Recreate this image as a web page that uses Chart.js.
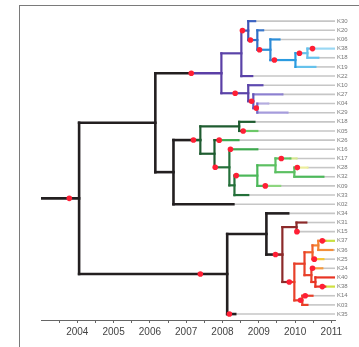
<!DOCTYPE html>
<html lang="en">
<head>
<meta charset="UTF-8">
<title>Dated tree</title>
<script src="https://cdn.jsdelivr.net/npm/chart.js"></script>
<style>
    body { margin: 0; padding: 0; background: #fff; }
    .wrap { position: relative; width: 359px; height: 347px; }
    .frame { position: absolute; left: 19px; top: 5px; right: 0; bottom: 0;
             border-left: 1.5px solid #7a7a7a; border-top: 1.5px solid #7a7a7a; pointer-events: none; }
</style>
</head>
<body>
<div class="wrap">
    <canvas id="tree" width="359" height="347"></canvas>
    <div class="frame"></div>
</div>
<script>
// tips, top to bottom
const tipLabels = ['K30','K20','K06','K38','K18','K19','K22','K10','K27','K04','K29',
    'K18','K05','K26','K16','K17','K28','K32','K09','K33','K02',
    'K34','K31','K15','K37','K36','K25','K24','K40','K38','K14','K03','K35'];
const tipParents = ['P2','P3','P4','P6','P6','P5','P1','P7','P8','P9','P9',
    'G1','G1','G2','G3','G6','G7','G7','G5','G4','B',
    'R1','R3','R3','R7','R7','R6','R8','R9','R9','R10','R10','R'];
const tipYears = [2008.90, 2009.12, 2009.57, 2011.10, 2010.64, 2010.56, 2008.82, 2009.10, 2009.65, 2009.26, 2009.79,
    2008.88, 2008.96, 2008.44, 2008.96, 2010.04, 2010.34, 2010.78, 2009.59, 2008.71, 2008.30,
    2009.81, 2010.31, 2010.09, 2011.10, 2011.03, 2010.78, 2010.75, 2011.10, 2011.10, 2010.48, 2010.34, 2008.35];

// internal nodes
const nodeNames = ['root','A','P','P1','P2','P3','P4','P5','P6','P7','P8','P9',
    'B','G','G1','G2','G3','G4','G5','G6','G7',
    'R','R1','R2','R3','R4','R5','R6','R7','R8','R9','R10'];
const nodeParents = [null,'root','A','P','P1','P2','P3','P4','P5','P','P7','P8',
    'A','B','G','G','G2','G3','G4','G5','G6',
    'root','R','R1','R2','R2','R4','R5','R6','R5','R8','R4'];
const nodeYears = [2004.05, 2006.15, 2007.97, 2008.52, 2008.71, 2008.96, 2009.32, 2010.01, 2010.34, 2008.71, 2008.85, 2008.96,
    2006.65, 2007.39, 2008.46, 2007.78, 2008.19, 2008.33, 2008.96, 2009.46, 2009.98,
    2008.13, 2009.21, 2009.65, 2010.04, 2009.98, 2010.26, 2010.48, 2010.64, 2010.45, 2010.56, 2010.20];
const rootStemStart = 2003.0;

// red markers: branch (leading to node / tip index) and year
const dotBranches = ['root','P','P2','P3','P4','P5','P6','t3','P7','P8','P9',
    'G','t12','t13','G3','t14','G5','t15','t16','t18',
    'R','R2','t23','R4','t24','t26','t27','t29','R10','t30','t32'];
const dotYears = [2003.78, 2007.14, 2008.55, 2008.77, 2009.02, 2009.43, 2010.12, 2010.48, 2008.35, 2008.80, 2008.93,
    2007.20, 2008.57, 2007.91, 2007.80, 2008.22, 2008.38, 2009.62, 2010.06, 2009.18,
    2007.39, 2009.46, 2010.05, 2009.84, 2010.75, 2010.53, 2010.48, 2010.75, 2010.15, 2010.28, 2008.19];

// branches whose colour changes part way
const shiftBranches = ['P','G','R2','R4','t3','t12','t13','t14','t15','t16','t18','t24','t26','t27','t29'];
const shiftYears = [2007.14, 2007.20, 2009.46, 2009.84, 2010.48, 2008.57, 2007.91, 2008.22, 2009.87, 2010.09, 2009.18, 2010.83, 2010.53, 2010.48, 2010.83];

const yearLabels = [2004, 2005, 2006, 2007, 2008, 2009, 2010, 2011];

// styling
const BLK = '#231f20';
const colors = {
    root: BLK, A: BLK, B: BLK, R: BLK, R1: BLK, t20: BLK, t21: BLK, t32: BLK,
    P: [BLK, '#5b3fa6'], P1: '#5a43a8', P2: '#3f55b5', t0: '#3c63c2', P3: '#2f6fc6', t1: '#3a78cc',
    P4: '#2c8ad6', t2: '#2c8ed8', P5: '#2b9be0', P6: '#66c2ec', t3: ['#66c2ec', '#9ad8f4'],
    t4: '#66c2ec', t5: '#66c2ec', t6: '#5a43a8', P7: '#5a43a8', t7: '#5e4ab0', P8: '#6455b8',
    t8: '#8c80d0', P9: '#7568c4', t9: '#b4acdf', t10: '#a69cdc',
    G: [BLK, '#1f5c30'], G1: '#1f5c30', t11: '#1f5c30', t12: ['#1f5c30', '#6cc868'], G2: '#1f5c30',
    t13: ['#1f5c30', '#3da84e'], G3: '#24703a', t14: ['#24703a', '#3da84e'], G4: '#24703a',
    G5: '#4cb85a', G6: '#5cc062', t15: ['#5cc062', '#d6e690'], G7: '#5cc062',
    t16: ['#5cc062', '#ecee9c'], t17: '#4cb85a', t18: ['#4cb85a', '#8ed680'], t19: '#24703a',
    R2: [BLK, '#8c2a2a'], R3: '#8c2a2a', t22: '#8c2a2a', t23: '#8c2a2a',
    R4: ['#8c2a2a', '#e8402a'], R5: '#e8402a', R6: '#f0602c', R7: '#f38232',
    t24: ['#f38232', '#c8e040'], t25: '#f38f3c', t26: ['#f0602c', '#f4c834'], R8: '#e8402a',
    t27: ['#e8402a', '#f49a40'], R9: '#e83424', t28: '#e83424', t29: ['#e83424', '#cfe040'],
    R10: '#e8402a', t30: '#e8402a', t31: '#e8402a'
};
const colorStart = id => Array.isArray(colors[id]) ? colors[id][0] : colors[id];
const colorEnd = id => Array.isArray(colors[id]) ? colors[id][1] : colors[id];
const widthOf = id => colorStart(id) === BLK ? 2.6 : 2.2;

// build tree layout
const info = {};
nodeNames.forEach((n, i) => { info[n] = { parent: nodeParents[i], year: nodeYears[i], kids: [] }; });
tipLabels.forEach((_, i) => {
    const id = 't' + i;
    info[id] = { parent: tipParents[i], year: tipYears[i], kids: [], y: i };
    info[tipParents[i]].kids.push(id);
});
nodeNames.forEach(n => { if (info[n].parent) info[info[n].parent].kids.push(n); });
function layoutY(id) {
    const nd = info[id];
    if (nd.y !== undefined) return nd.y;
    const ys = nd.kids.map(layoutY);
    nd.y = (Math.min(...ys) + Math.max(...ys)) / 2;
    return nd.y;
}
layoutY('root');

const xMax = 2011.1;
const datasets = [];
function seg(x1, y1, x2, y2, color, width, order) {
    datasets.push({ data: [{ x: x1, y: y1 }, { x: x2, y: y2 }], borderColor: color, borderWidth: width,
        showLine: true, pointRadius: 0, borderCapStyle: 'square', order: order });
}

Object.keys(info).forEach(id => {
    const nd = info[id];
    const x0 = nd.parent ? info[nd.parent].year : rootStemStart;
    const k = shiftBranches.indexOf(id);
    if (k >= 0) {
        seg(x0, nd.y, shiftYears[k], nd.y, colorStart(id), widthOf(id), 2);
        seg(shiftYears[k], nd.y, nd.year, nd.y, colorEnd(id), widthOf(id), 2);
    } else {
        seg(x0, nd.y, nd.year, nd.y, colorStart(id), widthOf(id), 2);
    }
    if (nd.kids.length) {
        const ys = nd.kids.map(c => info[c].y);
        seg(nd.year, Math.min(...ys), nd.year, Math.max(...ys), colorEnd(id), colorEnd(id) === BLK ? 2.6 : 2.2, 1);
    } else if (nd.year < xMax) {
        seg(nd.year, nd.y, xMax, nd.y, '#c6c6c6', 1.6, 3);
    }
});

datasets.push({
    data: dotBranches.map((b, i) => ({ x: dotYears[i], y: info[b].y })),
    pointRadius: 2.8, pointBackgroundColor: '#ff1f35', pointBorderWidth: 0, showLine: false, order: 0
});

const xTicks = [];
yearLabels.forEach(y => { xTicks.push(y - 0.5); xTicks.push(y); });

new Chart(document.getElementById('tree'), {
    type: 'scatter',
    data: { datasets: datasets },
    options: {
        responsive: false,
        animation: false,
        layout: { padding: { left: 41, top: 12, right: 0, bottom: 0 } },
        plugins: { legend: { display: false }, tooltip: { enabled: false } },
        scales: {
            x: {
                type: 'linear', min: 2003, max: xMax,
                afterBuildTicks: s => { s.ticks = xTicks.map(v => ({ value: v })); },
                afterFit: s => { s.height = 27; },
                grid: { drawOnChartArea: false, drawTicks: true, tickLength: 3, color: '#666' },
                border: { color: '#666', width: 1 },
                ticks: {
                    autoSkip: false, maxRotation: 0, padding: 3, color: '#444',
                    font: { family: 'Liberation Sans, Arial, sans-serif', size: 10 },
                    callback: v => Number.isInteger(v) ? String(v) : ''
                }
            },
            y: {
                type: 'linear', position: 'right', reverse: true, min: -1, max: 32.65,
                afterBuildTicks: s => { s.ticks = tipLabels.map((_, i) => ({ value: i })); },
                afterFit: s => { s.width = 24; },
                grid: { display: false, drawTicks: false },
                border: { display: false },
                ticks: {
                    autoSkip: false, padding: 2, color: '#777',
                    font: { family: 'Liberation Sans, Arial, sans-serif', size: 6 },
                    callback: v => tipLabels[v] ?? ''
                }
            }
        }
    }
});
</script>
</body>
</html>
